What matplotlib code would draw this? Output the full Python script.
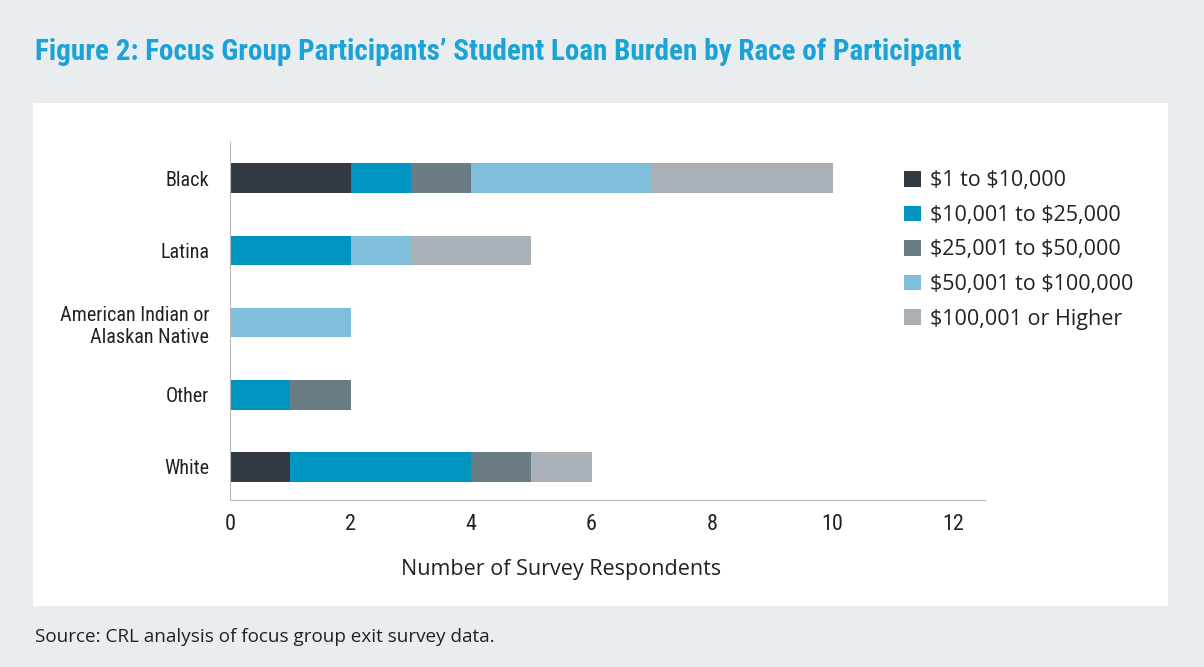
import numpy as np
import matplotlib.pyplot as plt
from matplotlib.patches import Rectangle

# data
races = ["Black", "Latina", "American Indian or\nAlaskan Native", "Other", "White"]
brackets = [r"\$1 to \$10,000", r"\$10,001 to \$25,000", r"\$25,001 to \$50,000",
            r"\$50,001 to \$100,000", r"\$100,001 or Higher"]
b1 = [2, 0, 0, 0, 1]
b2 = [1, 2, 0, 1, 3]
b3 = [1, 0, 0, 1, 1]
b4 = [3, 1, 2, 0, 0]
b5 = [3, 2, 0, 0, 1]
colors = ["#333a42", "#0094c0", "#6a7d84", "#7fbfdc", "#a9b0b6"]
xticks = [0, 2, 4, 6, 8, 10, 12]

narrow = ["Roboto Condensed", "Lato", "DejaVu Sans"]
plain = ["Open Sans", "DejaVu Sans"]
ink = "#222222"

W, H = 1204, 667
fig = plt.figure(figsize=(W / 100, H / 100), dpi=100)
fig.patch.set_facecolor("#e9edf0")
fig.patches.append(Rectangle((33 / W, 1 - 606 / H), 1135 / W, 503 / H,
                             transform=fig.transFigure, facecolor="white",
                             edgecolor="none", zorder=-5))

fig.text(35 / W, 1 - 52 / H, "Figure 2: Focus Group Participants\u2019 Student Loan Burden by Race of Participant",
         color="#1aa3d4", fontsize=21, fontweight="bold", family=narrow, va="center")
fig.text(35 / W, 1 - 637 / H, "Source: CRL analysis of focus group exit survey data.",
         color=ink, fontsize=13.6, family=plain, va="center")

ax = fig.add_axes([230 / W, 1 - 500 / H, 755 / W, 358 / H])
ax.set_facecolor("none")
y = np.arange(len(races))
left = np.zeros(len(races))
for vals, lab, col in zip([b1, b2, b3, b4, b5], brackets, colors):
    ax.barh(y, vals, left=left, height=0.41, color=col, label=lab)
    left += np.array(vals)

ax.set_ylim(4.457, -0.5)
ax.set_xlim(0, 12.53)
ax.set_xticks(xticks)
ax.set_xticklabels([str(v) for v in xticks], family=narrow, fontsize=16, color=ink)
ax.set_yticks(y)
ax.set_yticklabels(races, family=narrow, fontsize=14.5, color=ink)
ax.tick_params(axis="x", length=0, pad=10)
ax.tick_params(axis="y", length=0, pad=15)
for s in ["top", "right"]:
    ax.spines[s].set_visible(False)
ax.spines["left"].set_color("#b5b9bc")
ax.spines["bottom"].set_color("#b5b9bc")
ax.set_xlabel("Number of Survey Respondents", fontsize=15.5, family=plain, color=ink)
ax.xaxis.set_label_coords((561 - 230) / 755, -0.165)

ax.legend(loc="upper left", bbox_to_anchor=(885 / W, 1 - 151 / H),
          bbox_transform=fig.transFigure, frameon=False,
          prop={"family": plain, "size": 15.5}, handlelength=0.75, handleheight=0.75,
          handletextpad=0.45, labelspacing=0.63, labelcolor=ink)

fig.savefig("out.png", dpi=100, facecolor=fig.get_facecolor())
